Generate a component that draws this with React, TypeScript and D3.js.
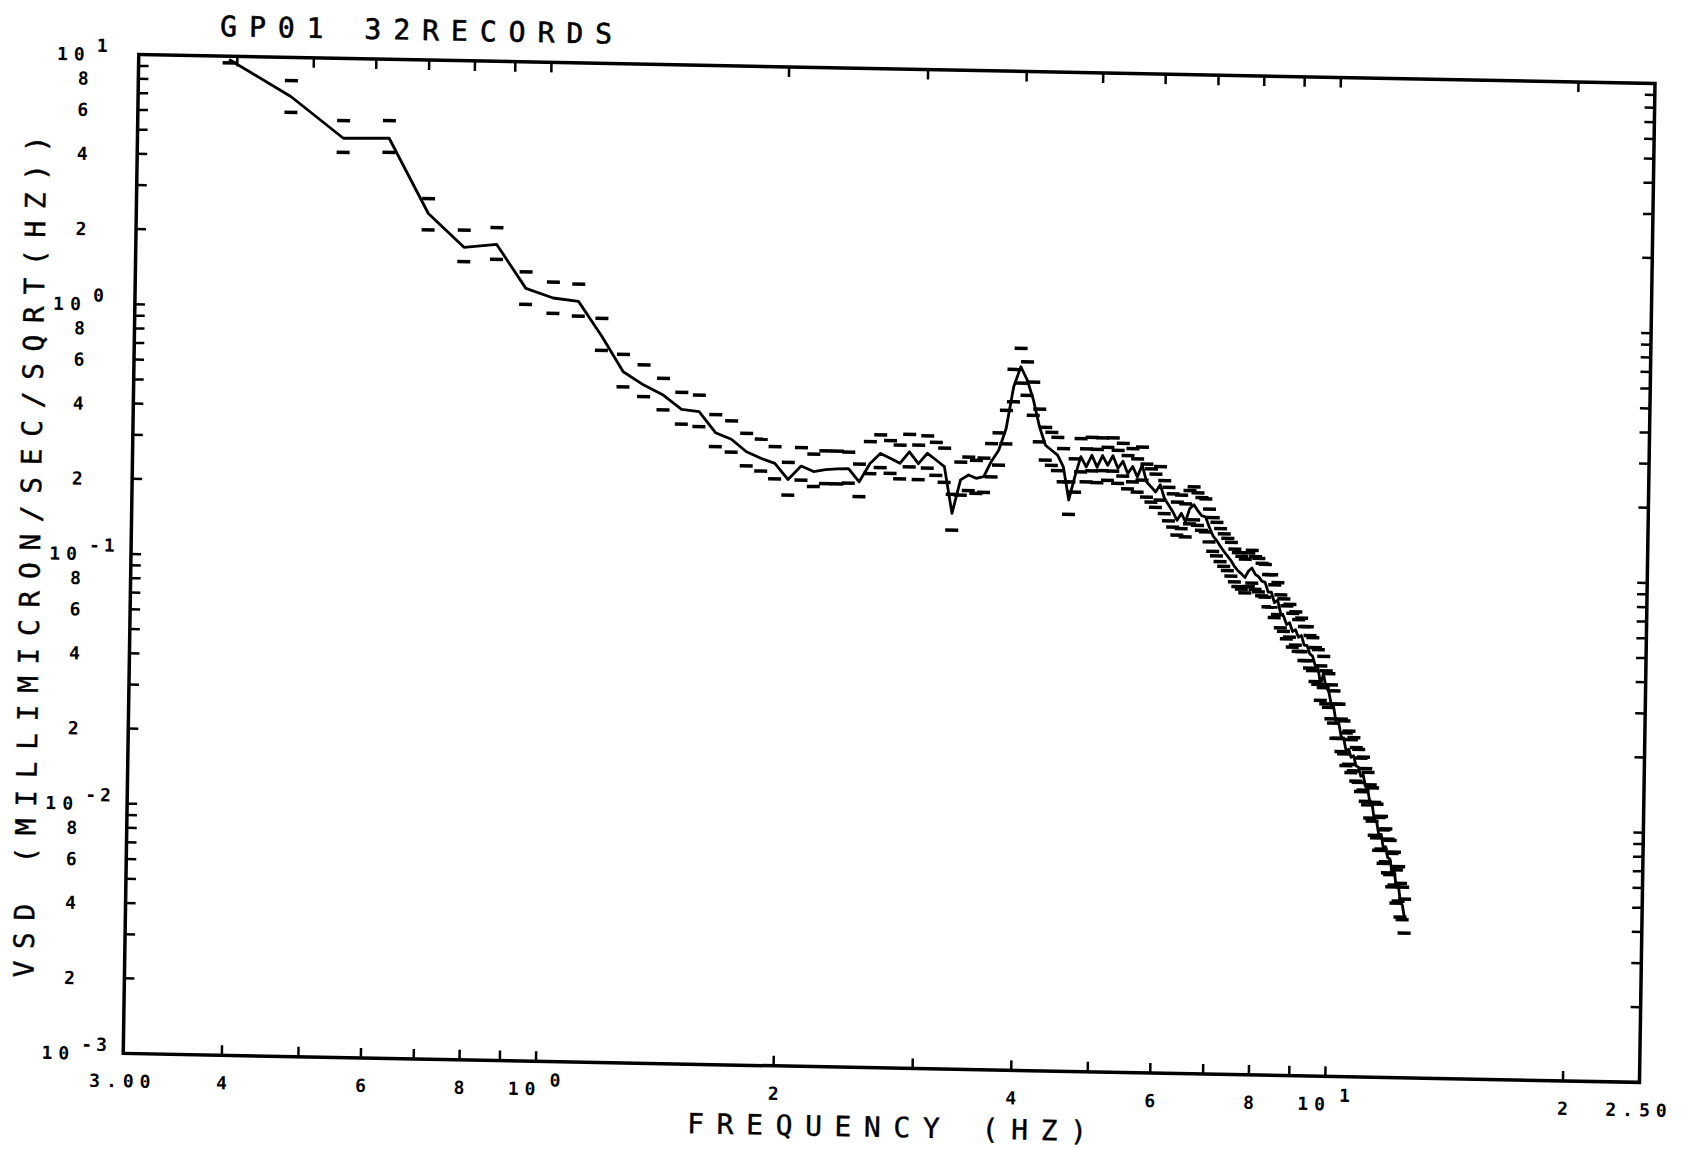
import React from 'react';
import * as d3 from 'd3';

// Frequencies (Hz) of the spectral estimates
const FREQ = [
  0.3906, 0.4688, 0.5469, 0.625, 0.7031, 0.7813, 0.8594, 0.9375, 1.0156, 1.0938,
  1.1719, 1.25, 1.3281, 1.4063, 1.4844, 1.5625, 1.6406, 1.7188, 1.7969, 1.875,
  1.9531, 2.0313, 2.1094, 2.1875, 2.2656, 2.3438, 2.4219, 2.5, 2.5781, 2.6563,
  2.7344, 2.8125, 2.8906, 2.9688, 3.0469, 3.125, 3.2031, 3.2813, 3.3594, 3.4375,
  3.5156, 3.5938, 3.6719, 3.75, 3.8281, 3.9063, 3.9844, 4.0625, 4.1406, 4.2188,
  4.2969, 4.375, 4.4531, 4.5313, 4.6094, 4.6875, 4.7656, 4.8438, 4.9219, 5.0,
  5.0781, 5.1563, 5.2344, 5.3125, 5.3906, 5.4688, 5.5469, 5.625, 5.7031, 5.7813,
  5.8594, 5.9375, 6.0156, 6.0938, 6.1719, 6.25, 6.3281, 6.4063, 6.4844, 6.5625,
  6.6406, 6.7188, 6.7969, 6.875, 6.9531, 7.0313, 7.1094, 7.1875, 7.2656, 7.3438,
  7.4219, 7.5, 7.5781, 7.6563, 7.7344, 7.8125, 7.8906, 7.9688, 8.0469, 8.125,
  8.2031, 8.2813, 8.3594, 8.4375, 8.5156, 8.5938, 8.6719, 8.75, 8.8281, 8.9063,
  8.9844, 9.0625, 9.1406, 9.2188, 9.2969, 9.375, 9.4531, 9.5313, 9.6094, 9.6875,
  9.7656, 9.8438, 9.9219, 10.0, 10.0781, 10.1563, 10.2344, 10.3125, 10.3906, 10.4688,
  10.5469, 10.625, 10.7031, 10.7813, 10.8594, 10.9375, 11.0156, 11.0938, 11.1719, 11.25,
  11.3281, 11.4063, 11.4844, 11.5625, 11.6406, 11.7188, 11.7969, 11.875, 11.9531, 12.0313,
  12.1094, 12.1875, 12.2656, 12.3438, 12.4219, 12.5,
];

// Mean VSD (solid line)
const VSD_MEAN = [
  9.7, 6.96, 4.79, 4.83, 2.43, 1.79, 1.85, 1.24, 1.14, 1.11,
  0.81, 0.585, 0.519, 0.475, 0.418, 0.41, 0.339, 0.32, 0.286, 0.27,
  0.258, 0.223, 0.253, 0.241, 0.246, 0.248, 0.249, 0.221, 0.262, 0.288,
  0.276, 0.264, 0.294, 0.264, 0.291, 0.274, 0.258, 0.168, 0.229, 0.24,
  0.233, 0.237, 0.273, 0.303, 0.371, 0.546, 0.657, 0.582, 0.484, 0.379,
  0.32, 0.306, 0.293, 0.263, 0.194, 0.241, 0.29, 0.264, 0.294, 0.264,
  0.294, 0.269, 0.294, 0.262, 0.28, 0.25, 0.267, 0.243, 0.271, 0.232,
  0.222, 0.212, 0.227, 0.2, 0.188, 0.177, 0.164, 0.175, 0.162, 0.183,
  0.19, 0.18, 0.172, 0.17, 0.155, 0.143, 0.137, 0.13, 0.124, 0.119,
  0.114, 0.108, 0.104, 0.101, 0.098, 0.104, 0.107, 0.101, 0.099, 0.095,
  0.094, 0.086, 0.086, 0.078, 0.08, 0.071, 0.069, 0.064, 0.065, 0.06,
  0.061, 0.057, 0.058, 0.053, 0.053, 0.049, 0.048, 0.044, 0.043, 0.037,
  0.041, 0.036, 0.035, 0.031, 0.03, 0.026, 0.026, 0.023, 0.0225, 0.0202,
  0.0205, 0.019, 0.0193, 0.0176, 0.0174, 0.016, 0.0162, 0.0146, 0.0141, 0.0125,
  0.0122, 0.0107, 0.0105, 0.0093, 0.0094, 0.0083, 0.0084, 0.0076, 0.0075, 0.0067,
  0.0068, 0.0058, 0.0059, 0.0051, 0.0049, 0.0044,
];

// Upper bound (dash above)
const VSD_UPPER = [
  11.5, 8.07, 5.63, 5.68, 2.79, 2.1, 2.16, 1.445, 1.32, 1.3,
  0.954, 0.687, 0.625, 0.554, 0.489, 0.478, 0.4, 0.379, 0.339, 0.322,
  0.301, 0.261, 0.3, 0.283, 0.292, 0.292, 0.29, 0.26, 0.321, 0.342,
  0.325, 0.312, 0.345, 0.313, 0.342, 0.322, 0.306, 0.2, 0.27, 0.283,
  0.275, 0.281, 0.322, 0.356, 0.438, 0.64, 0.778, 0.688, 0.571, 0.446,
  0.377, 0.361, 0.345, 0.311, 0.229, 0.284, 0.342, 0.312, 0.347, 0.311,
  0.346, 0.317, 0.347, 0.309, 0.33, 0.295, 0.315, 0.287, 0.32, 0.274,
  0.262, 0.25, 0.268, 0.236, 0.222, 0.209, 0.194, 0.207, 0.191, 0.216,
  0.224, 0.212, 0.203, 0.201, 0.183, 0.169, 0.162, 0.153, 0.146, 0.14,
  0.135, 0.127, 0.123, 0.119, 0.116, 0.123, 0.126, 0.119, 0.117, 0.112,
  0.111, 0.101, 0.101, 0.092, 0.094, 0.084, 0.081, 0.076, 0.077, 0.071,
  0.072, 0.067, 0.068, 0.063, 0.063, 0.058, 0.057, 0.052, 0.051, 0.044,
  0.048, 0.042, 0.041, 0.037, 0.035, 0.031, 0.031, 0.027, 0.0266, 0.0238,
  0.0242, 0.0224, 0.0228, 0.0208, 0.0205, 0.0189, 0.0191, 0.0172, 0.0166, 0.0148,
  0.0144, 0.0126, 0.0124, 0.011, 0.0111, 0.0098, 0.0099, 0.009, 0.0089, 0.0079,
  0.008, 0.0068, 0.007, 0.006, 0.0058, 0.0052,
];

// Lower bound (dash below)
const VSD_LOWER = [
  9.4, 6.03, 4.21, 4.24, 2.09, 1.57, 1.61, 1.07, 0.99, 0.97,
  0.71, 0.509, 0.467, 0.414, 0.365, 0.357, 0.298, 0.284, 0.251, 0.24,
  0.224, 0.193, 0.222, 0.21, 0.216, 0.216, 0.218, 0.193, 0.239, 0.253,
  0.24, 0.229, 0.256, 0.228, 0.254, 0.238, 0.223, 0.144, 0.199, 0.208,
  0.203, 0.205, 0.237, 0.264, 0.322, 0.475, 0.565, 0.505, 0.421, 0.33,
  0.279, 0.266, 0.254, 0.229, 0.17, 0.209, 0.252, 0.23, 0.255, 0.229,
  0.256, 0.234, 0.255, 0.228, 0.244, 0.217, 0.232, 0.211, 0.236, 0.202,
  0.193, 0.184, 0.197, 0.174, 0.163, 0.154, 0.143, 0.152, 0.141, 0.159,
  0.165, 0.157, 0.15, 0.148, 0.135, 0.124, 0.119, 0.113, 0.108, 0.104,
  0.099, 0.094, 0.09, 0.088, 0.085, 0.09, 0.093, 0.088, 0.086, 0.083,
  0.082, 0.075, 0.075, 0.068, 0.07, 0.062, 0.06, 0.056, 0.057, 0.052,
  0.053, 0.05, 0.05, 0.046, 0.046, 0.043, 0.042, 0.038, 0.037, 0.032,
  0.036, 0.031, 0.03, 0.027, 0.026, 0.0226, 0.0226, 0.02, 0.0196, 0.0176,
  0.0178, 0.0165, 0.0168, 0.0153, 0.0151, 0.0139, 0.0141, 0.0127, 0.0123, 0.0109,
  0.0106, 0.0093, 0.0091, 0.0081, 0.0082, 0.0072, 0.0073, 0.0066, 0.0065, 0.0058,
  0.0059, 0.005, 0.0051, 0.0044, 0.0043, 0.0038,
];

const TITLE = 'GP01 32RECORDS';
const X_TITLE = 'FREQUENCY (HZ)';
const Y_TITLE = 'VSD (MILLIMICRON/SEC/SQRT(HZ))';

const X_DOMAIN = [0.3, 25];
const Y_DOMAIN = [1e-3, 1e1];

// x tick labels: value, base text, superscript
const X_LABEL_VALUES = [0.3, 0.4, 0.6, 0.8, 1, 2, 4, 6, 8, 10, 20, 25];
const X_LABEL_BASES = ['3.00', '4', '6', '8', '10', '2', '4', '6', '8', '10', '2', '2.50'];
const X_LABEL_SUPS = ['', '', '', '', '0', '', '', '', '', '1', '', ''];

const Y_LABEL_VALUES = [10, 8, 6, 4, 2, 1, 0.8, 0.6, 0.4, 0.2, 0.1, 0.08, 0.06, 0.04, 0.02, 0.01, 0.008, 0.006, 0.004, 0.002, 0.001];
const Y_LABEL_BASES = ['10', '8', '6', '4', '2', '10', '8', '6', '4', '2', '10', '8', '6', '4', '2', '10', '8', '6', '4', '2', '10'];
const Y_LABEL_SUPS = ['1', '', '', '', '', '0', '', '', '', '', '-1', '', '', '', '', '-2', '', '', '', '', '-3'];

const W = 1516.5;
const H = 999;
const FONT = "'DejaVu Sans Mono', monospace";

export default function App() {
  const x = d3.scaleLog().domain(X_DOMAIN).range([0, W]);
  const y = d3.scaleLog().domain(Y_DOMAIN).range([H, 0]);

  const xTicks = x.ticks().filter((t) => t > X_DOMAIN[0] * 1.0001 && t < X_DOMAIN[1] * 0.9999);
  const yTicks = y.ticks().filter((t) => t > Y_DOMAIN[0] * 1.0001 && t < Y_DOMAIN[1] * 0.9999);

  const n = Math.min(FREQ.length, VSD_MEAN.length);
  const pts = d3.range(n).map((i) => [FREQ[i], VSD_MEAN[i]] as [number, number]);
  const line = d3
    .line<[number, number]>()
    .x((d) => x(d[0]))
    .y((d) => y(d[1]));

  const inDom = (v: number) => v >= Y_DOMAIN[0] && v <= Y_DOMAIN[1];
  const dashes: { f: number; v: number }[] = [];
  d3.range(n).forEach((i) => {
    if (inDom(VSD_UPPER[i])) dashes.push({ f: FREQ[i], v: VSD_UPPER[i] });
    if (inDom(VSD_LOWER[i])) dashes.push({ f: FREQ[i], v: VSD_LOWER[i] });
  });

  const tickLen = 10;
  const labelStyle: React.CSSProperties = { fontFamily: FONT, fontWeight: 'bold', fontSize: 18 };
  const bigStyle: React.CSSProperties = { fontFamily: FONT, fontWeight: 'normal', fontSize: 28 };

  return (
    <svg
      width={1684}
      height={1149}
      style={{ position: 'absolute', left: 0, top: 0, background: '#ffffff' }}
    >
      <rect x={0} y={0} width={1684} height={1149} fill="#ffffff" />
      <g transform="matrix(0.99982,0.01912,-0.01552,0.99988,138.75,54.5)">
        {/* frame */}
        <rect x={0} y={0} width={W} height={H} fill="none" stroke="#000" strokeWidth={3.5} />

        {/* x ticks, bottom and top, pointing inward */}
        {xTicks.map((t) => (
          <g key={'xt' + t}>
            <line x1={x(t)} x2={x(t)} y1={H} y2={H - tickLen} stroke="#000" strokeWidth={2.5} />
            <line x1={x(t)} x2={x(t)} y1={0} y2={tickLen} stroke="#000" strokeWidth={2.5} />
          </g>
        ))}
        {/* y ticks, left and right, pointing inward */}
        {yTicks.map((t) => (
          <g key={'yt' + t}>
            <line x1={0} x2={tickLen} y1={y(t)} y2={y(t)} stroke="#000" strokeWidth={2.5} />
            <line x1={W} x2={W - tickLen} y1={y(t)} y2={y(t)} stroke="#000" strokeWidth={2.5} />
          </g>
        ))}

        {/* x tick labels */}
        {X_LABEL_VALUES.map((v, i) => {
          const px = x(v);
          const base = X_LABEL_BASES[i];
          const sup = X_LABEL_SUPS[i];
          if (sup) {
            return (
              <g key={'xl' + i} style={labelStyle}>
                <text x={px + 6} y={H + 34} textAnchor="end" letterSpacing={6}>
                  {base}
                </text>
                <text x={px + 14} y={H + 25}>
                  {sup}
                </text>
              </g>
            );
          }
          return (
            <text key={'xl' + i} x={px} y={H + 34} textAnchor="middle" letterSpacing={base.length > 1 ? 6 : 0} style={labelStyle}>
              {base}
            </text>
          );
        })}

        {/* y tick labels */}
        {Y_LABEL_VALUES.map((v, i) => {
          const py = y(v);
          const base = Y_LABEL_BASES[i];
          const sup = Y_LABEL_SUPS[i];
          if (sup) {
            return (
              <g key={'yl' + i} style={labelStyle}>
                <text x={-48} y={py + 7} textAnchor="end" letterSpacing={6}>
                  {base}
                </text>
                <text x={-42} y={py - 2} letterSpacing={4}>
                  {sup}
                </text>
              </g>
            );
          }
          return (
            <text key={'yl' + i} x={-55} y={py + 7} textAnchor="middle" style={labelStyle}>
              {base}
            </text>
          );
        })}

        {/* dashes (upper / lower bounds) */}
        {dashes.map((d, i) => (
          <line
            key={'d' + i}
            x1={x(d.f) - 6.5}
            x2={x(d.f) + 6.5}
            y1={y(d.v)}
            y2={y(d.v)}
            stroke="#000"
            strokeWidth={3.5}
          />
        ))}

        {/* mean line */}
        <path d={line(pts) || ''} fill="none" stroke="#000" strokeWidth={2.8} strokeLinejoin="round" />

        {/* titles */}
        <text x={81} y={-20} style={bigStyle} stroke="#000" strokeWidth={0.6} letterSpacing={12}>
          {TITLE}
        </text>
        <text x={565} y={H + 69} style={bigStyle} stroke="#000" strokeWidth={0.4} letterSpacing={12.6}>
          {X_TITLE}
        </text>
        <text
          transform={`translate(-91, 925) rotate(-90)`}
          style={bigStyle}
          stroke="#000"
          strokeWidth={0.4}
          letterSpacing={11.6}
        >
          {Y_TITLE}
        </text>
      </g>
    </svg>
  );
}
